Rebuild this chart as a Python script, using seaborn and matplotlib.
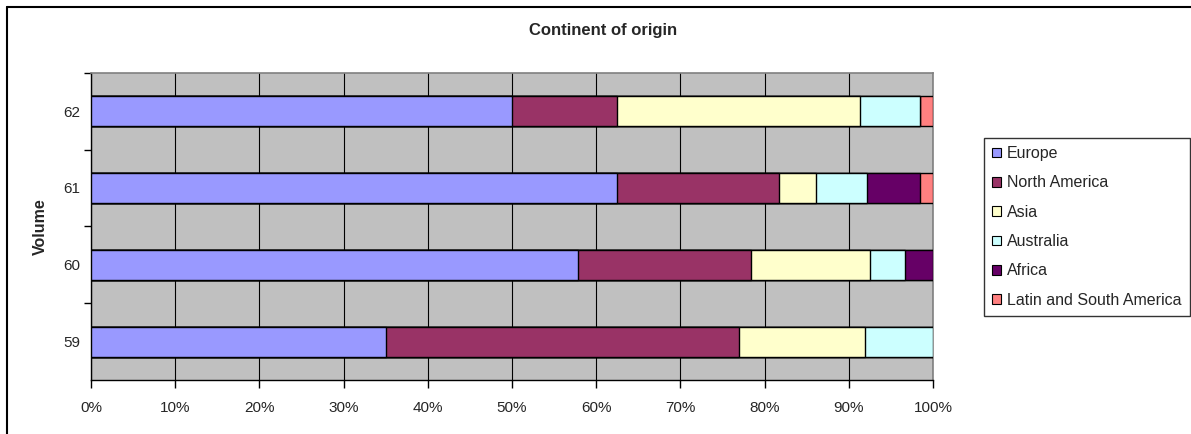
import numpy as np
import pandas as pd
import seaborn as sns
import matplotlib.pyplot as plt
from matplotlib.patches import Patch
from matplotlib.lines import Line2D
from matplotlib.ticker import MultipleLocator, PercentFormatter

volumes = ["59", "60", "61", "62"]
europe = [35.0, 57.8, 62.5, 50.0]
north_america = [42.0, 20.6, 19.2, 12.5]
asia = [14.9, 14.1, 4.4, 28.8]
australia = [8.1, 4.2, 6.1, 7.1]
africa = [0.0, 3.3, 6.2, 0.0]
latin_south_america = [0.0, 0.0, 1.6, 1.6]

series_names = ["Europe", "North America", "Asia", "Australia", "Africa",
                "Latin and South America"]
colors = ["#9999FF", "#993366", "#FFFFCC", "#CCFFFF", "#660066", "#FF8080"]

df = pd.DataFrame({
    "Volume": volumes,
    "Europe": europe,
    "North America": north_america,
    "Asia": asia,
    "Australia": australia,
    "Africa": africa,
    "Latin and South America": latin_south_america,
})
shares = df[series_names].div(df[series_names].sum(axis=1), axis=0) * 100
cum = shares.cumsum(axis=1)
cum["Volume"] = df["Volume"]

sns.set_style("white")
plt.rcParams["font.family"] = ["Liberation Sans", "DejaVu Sans"]

fig = plt.figure(figsize=(11.91, 4.34), dpi=100)
ax = fig.add_axes([91 / 1191, 1 - 380 / 434, 842 / 1191, 307.3 / 434])
ax.set_facecolor("#C0C0C0")

order = ["62", "61", "60", "59"]
# draw cumulative bars from the back so each segment shows its share
for name, col in reversed(list(zip(series_names, colors))):
    sns.barplot(data=cum, x=name, y="Volume", order=order, color=col,
                saturation=1, width=0.39, edgecolor="black", linewidth=1,
                orient="h", ax=ax, zorder=3)

ax.set_xlim(0, 100)
ax.set_ylim(3.5, -0.5)
ax.xaxis.set_major_locator(MultipleLocator(10))
ax.xaxis.set_major_formatter(PercentFormatter(decimals=0))
ax.grid(axis="x", color="black", linewidth=0.8, zorder=0)
ax.set_axisbelow(True)
ax.tick_params(axis="x", direction="out", length=6, width=1, color="black",
               labelsize=11, pad=9, bottom=True)
ax.set_yticks(range(4))
ax.set_yticklabels(order)
ax.tick_params(axis="y", which="major", length=0, labelsize=11, pad=8)
ax.set_yticks([-0.5, 0.5, 1.5, 2.5], minor=True)
ax.tick_params(axis="y", which="minor", direction="out", length=5, width=1,
               color="black", left=True)

for side in ["top", "right"]:
    ax.spines[side].set_color("#808080")
    ax.spines[side].set_linewidth(1.2)
for side in ["left", "bottom"]:
    ax.spines[side].set_color("black")
    ax.spines[side].set_linewidth(1)

ax.set_xlabel("")
ax.set_ylabel("Volume", fontsize=11.5, fontweight="bold", labelpad=11)

fig.text(603.5 / 1191, 1 - 31 / 434, "Continent of origin", ha="center",
         va="center", fontsize=12, fontweight="bold")

handles = [Patch(facecolor=c, edgecolor="black", linewidth=0.8) for c in colors]
leg = fig.legend(handles, series_names, loc="upper left",
                 bbox_to_anchor=(984 / 1191, 1 - 138 / 434), fontsize=11.5,
                 frameon=True, fancybox=False, borderaxespad=0,
                 handlelength=0.55, handleheight=0.55, handletextpad=0.4,
                 labelspacing=0.9, borderpad=0.5)
leg.get_frame().set_edgecolor("black")
leg.get_frame().set_linewidth(1)

# chart border like the spreadsheet chart object (left and top edges)
fig.add_artist(Line2D([7 / 1191, 7 / 1191], [0, 1 - 7 / 434],
                      transform=fig.transFigure, color="black", linewidth=1.5))
fig.add_artist(Line2D([7 / 1191, 1], [1 - 7 / 434, 1 - 7 / 434],
                      transform=fig.transFigure, color="black", linewidth=1.5))

fig.savefig("out.png", dpi=100)
